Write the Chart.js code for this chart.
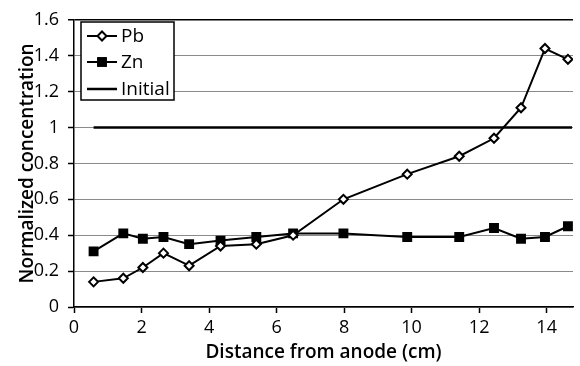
<!DOCTYPE html>
<html>
<head>
<meta charset="utf-8">
<script src="https://cdn.jsdelivr.net/npm/chart.js@4.4.0/dist/chart.umd.min.js"></script>
<style>
    html, body { margin: 0; padding: 0; background: #ffffff; }
    #wrap { width: 580px; height: 366px; position: relative; }
</style>
</head>
<body>
<div id="wrap"><canvas id="chart"></canvas></div>
<script>
const distance = [0.58, 1.46, 2.04, 2.65, 3.41, 4.34, 5.40, 6.49, 7.98, 9.87, 11.41, 12.44, 13.24, 13.95, 14.63];
const pbValues = [0.14, 0.16, 0.22, 0.30, 0.23, 0.34, 0.35, 0.40, 0.60, 0.74, 0.84, 0.94, 1.11, 1.44, 1.38];
const znValues = [0.31, 0.41, 0.38, 0.39, 0.35, 0.37, 0.39, 0.41, 0.41, 0.39, 0.39, 0.44, 0.38, 0.39, 0.45];
const initialX = [0.58, 14.75];
const initialY = [1, 1];
const seriesNames = ['Pb', 'Zn', 'Initial'];

const fontFamily = '"Open Sans", "Noto Sans", sans-serif';

function toPoints(xs, ys) {
    return xs.map((x, i) => ({ x: x, y: ys[i] }));
}

// legend drawn inside the plot, like the original figure
const boxLegend = {
    id: 'boxLegend',
    afterDraw(chart) {
        const ctx = chart.ctx;
        const left = 81, top = 22, width = 93, height = 78;
        const rows = [36, 62, 89];
        ctx.save();
        ctx.fillStyle = '#ffffff';
        ctx.fillRect(left, top, width, height);
        ctx.strokeStyle = '#000000';
        ctx.lineWidth = 1.5;
        ctx.strokeRect(left, top, width, height);

        chart.data.datasets.forEach((ds, i) => {
            const y = rows[i];
            ctx.strokeStyle = ds.borderColor;
            ctx.lineWidth = ds.borderWidth;
            ctx.beginPath();
            ctx.moveTo(87, y);
            ctx.lineTo(117, y);
            ctx.stroke();

            const cx = 102;
            if (ds.pointStyle === 'rectRot') {
                const r = ds.pointRadius;
                ctx.fillStyle = '#ffffff';
                ctx.lineWidth = ds.pointBorderWidth;
                ctx.beginPath();
                ctx.moveTo(cx, y - r);
                ctx.lineTo(cx + r, y);
                ctx.lineTo(cx, y + r);
                ctx.lineTo(cx - r, y);
                ctx.closePath();
                ctx.fill();
                ctx.stroke();
            } else if (ds.pointStyle === 'rect' && ds.pointRadius > 0) {
                const s = ds.pointRadius * Math.SQRT1_2;
                ctx.fillStyle = '#000000';
                ctx.fillRect(cx - s, y - s, 2 * s, 2 * s);
            }

            ctx.fillStyle = '#000000';
            ctx.font = '19px ' + fontFamily;
            ctx.textBaseline = 'middle';
            ctx.textAlign = 'left';
            ctx.fillText(ds.label, 121, y + 1);
        });
        ctx.restore();
    }
};

const ctx = document.getElementById('chart');

new Chart(ctx, {
    type: 'line',
    data: {
        datasets: [
            {
                label: seriesNames[0],
                data: toPoints(distance, pbValues),
                borderColor: '#000000',
                borderWidth: 2,
                pointStyle: 'rectRot',
                pointRadius: 4.5,
                pointBorderWidth: 2,
                pointBackgroundColor: '#ffffff',
                pointBorderColor: '#000000',
                tension: 0
            },
            {
                label: seriesNames[1],
                data: toPoints(distance, znValues),
                borderColor: '#000000',
                borderWidth: 2,
                pointStyle: 'rect',
                pointRadius: 7,
                pointBorderWidth: 0,
                pointBackgroundColor: '#000000',
                pointBorderColor: '#000000',
                tension: 0
            },
            {
                label: seriesNames[2],
                data: toPoints(initialX, initialY),
                borderColor: '#000000',
                borderWidth: 2.5,
                pointStyle: 'rect',
                pointRadius: 0,
                tension: 0
            }
        ]
    },
    options: {
        responsive: true,
        maintainAspectRatio: false,
        animation: false,
        layout: {
            padding: { top: 13, right: 0, bottom: 0, left: 0 }
        },
        plugins: {
            legend: { display: false },
            tooltip: { enabled: false }
        },
        scales: {
            x: {
                type: 'linear',
                min: 0,
                max: 14.78,
                afterFit: function(scale) { scale.height = 59; },
                ticks: {
                    stepSize: 2,
                    includeBounds: false,
                    color: '#000000',
                    padding: 4,
                    font: { family: fontFamily, size: 18 }
                },
                grid: {
                    drawOnChartArea: false,
                    drawTicks: true,
                    tickLength: 6,
                    tickColor: '#000000',
                    tickWidth: 1.5
                },
                border: { color: '#000000', width: 1.5 },
                title: {
                    display: true,
                    text: 'Distance from anode (cm)',
                    color: '#000000',
                    padding: { top: 0, bottom: 2 },
                    font: { family: fontFamily, size: 19, weight: '600' }
                }
            },
            y: {
                min: 0,
                max: 1.6,
                afterFit: function(scale) { scale.width = 74; },
                ticks: {
                    stepSize: 0.2,
                    color: '#000000',
                    padding: 9,
                    font: { family: fontFamily, size: 18 },
                    callback: function(value) {
                        return String(Number(value.toFixed(1)));
                    }
                },
                grid: {
                    color: function(c) {
                        return c.tick && Math.abs(c.tick.value - 1.6) < 1e-6 ? '#000000' : '#8a8a8a';
                    },
                    lineWidth: function(c) {
                        return c.tick && Math.abs(c.tick.value - 1.6) < 1e-6 ? 1.5 : 1;
                    },
                    drawTicks: true,
                    tickLength: 6,
                    tickColor: '#000000',
                    tickWidth: 1.5
                },
                border: { color: '#000000', width: 1.5 },
                title: {
                    display: true,
                    text: 'Normalized concentration',
                    color: '#000000',
                    padding: { top: 16, bottom: 0 },
                    font: { family: fontFamily, size: 19, weight: '600' }
                }
            }
        }
    },
    plugins: [boxLegend]
});
</script>
</body>
</html>
